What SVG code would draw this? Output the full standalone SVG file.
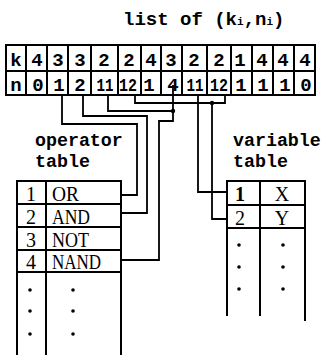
<svg xmlns="http://www.w3.org/2000/svg" width="323" height="355" viewBox="0 0 323 355">
<style>
.bg{fill:#fff}
.ln{stroke:#000;stroke-width:2;fill:none;stroke-linecap:square}
.cn{stroke:#000;stroke-width:1.8;fill:none;stroke-linejoin:miter}
.mono{font-family:"Courier New","Liberation Mono","DejaVu Sans Mono",monospace;font-weight:bold;fill:#000}
.cell{font-family:"Courier New","Liberation Mono","DejaVu Sans Mono",monospace;font-weight:bold;font-size:19px;fill:#000;text-anchor:middle}
.ser{font-family:"Liberation Serif","Times New Roman",serif;font-size:20px;fill:#000}
.dot{fill:#000}
</style>
<rect class="bg" x="0" y="0" width="323" height="355"/>

<g id="title">
<text class="mono" x="123" y="25" font-size="19">list of (k<tspan font-size="11">i</tspan>,n<tspan font-size="11">i</tspan>)</text>
</g>

<g id="list">
<path class="ln" d="M6 45H315M6 71H315M6 95H315M6 45V95M26 45V95M47 45V95M68 45V95M91 45V95M118 45V95M141 45V95M161 45V95M182 45V95M207 45V95M231 45V95M252 45V95M273 45V95M294 45V95M315 45V95"/>
<text class="cell" x="16" y="66">k</text>
<text class="cell" x="37" y="66">4</text>
<text class="cell" x="58" y="66">3</text>
<text class="cell" x="80" y="66">3</text>
<text class="cell" x="104" y="66">2</text>
<text class="cell" x="129" y="66">2</text>
<text class="cell" x="151" y="66">4</text>
<text class="cell" x="171" y="66">3</text>
<text class="cell" x="194" y="66">2</text>
<text class="cell" x="219" y="66">2</text>
<text class="cell" x="240" y="66">1</text>
<text class="cell" x="262" y="66">4</text>
<text class="cell" x="283" y="66">4</text>
<text class="cell" x="305" y="66">4</text>
<text class="cell" x="16" y="91">n</text>
<text class="cell" x="38" y="91">0</text>
<text class="cell" x="59" y="91">1</text>
<text class="cell" x="80" y="91">2</text>
<text class="cell" x="105" y="91" textLength="17" lengthAdjust="spacingAndGlyphs">11</text>
<text class="cell" x="128" y="91" textLength="18" lengthAdjust="spacingAndGlyphs">12</text>
<text class="cell" x="149" y="91">1</text>
<text class="cell" x="173" y="91">4</text>
<text class="cell" x="195" y="91" textLength="17" lengthAdjust="spacingAndGlyphs">11</text>
<text class="cell" x="219" y="91" textLength="18" lengthAdjust="spacingAndGlyphs">12</text>
<text class="cell" x="241" y="91">1</text>
<text class="cell" x="263" y="91">1</text>
<text class="cell" x="285" y="91">1</text>
<text class="cell" x="306" y="91">0</text>
</g>

<g id="operator-label">
<text class="mono" x="35" y="146" font-size="18.3">operator</text>
<text class="mono" x="35" y="167" font-size="18.3">table</text>
</g>

<g id="variable-label">
<text class="mono" x="233" y="146" font-size="18.3">variable</text>
<text class="mono" x="233" y="167" font-size="18.3">table</text>
</g>

<g id="operator-table">
<path class="ln" d="M17 181H121M17 204H121M17 227H121M17 250H121M17 272H121M17 181V355M46 181V355M121 181V355"/>
<text class="ser" x="31" y="201" text-anchor="middle">1</text>
<text class="ser" x="52" y="201" textLength="27" lengthAdjust="spacingAndGlyphs">OR</text>
<text class="ser" x="31" y="224" text-anchor="middle">2</text>
<text class="ser" x="52" y="224" textLength="38" lengthAdjust="spacingAndGlyphs">AND</text>
<text class="ser" x="31" y="247" text-anchor="middle">3</text>
<text class="ser" x="52" y="247" textLength="37" lengthAdjust="spacingAndGlyphs">NOT</text>
<text class="ser" x="31" y="269" text-anchor="middle">4</text>
<text class="ser" x="52" y="269" textLength="49" lengthAdjust="spacingAndGlyphs">NAND</text>
<circle class="dot" cx="30" cy="290" r="1.8"/>
<circle class="dot" cx="30" cy="311" r="1.8"/>
<circle class="dot" cx="30" cy="334" r="1.8"/>
<circle class="dot" cx="73" cy="290" r="1.8"/>
<circle class="dot" cx="73" cy="311" r="1.8"/>
<circle class="dot" cx="73" cy="334" r="1.8"/>
</g>

<g id="variable-table">
<path class="ln" d="M227 181H305M227 205H305M227 228H305M227 181V315M260 181V315M305 181V320"/>
<text class="ser" x="240" y="201" text-anchor="middle" font-weight="bold">1</text>
<text class="ser" x="282" y="201" text-anchor="middle">X</text>
<text class="ser" x="240" y="225" text-anchor="middle">2</text>
<text class="ser" x="282" y="225" text-anchor="middle">Y</text>
<circle class="dot" cx="239" cy="245" r="1.8"/>
<circle class="dot" cx="239" cy="267" r="1.8"/>
<circle class="dot" cx="239" cy="289" r="1.8"/>
<circle class="dot" cx="283" cy="245" r="1.8"/>
<circle class="dot" cx="283" cy="267" r="1.8"/>
<circle class="dot" cx="283" cy="289" r="1.8"/>
</g>

<g id="connectors">
<path class="cn" d="M62 95V124H137V195H121"/>
<path class="cn" d="M83 95V116H147V213H121"/>
<path class="cn" d="M173 85V121H159V260H121"/>
<path class="cn" d="M108 95V111H173"/>
<path class="cn" d="M135 95V103H225V95"/>
<path class="cn" d="M212 103V219H227"/>
<path class="cn" d="M198 95V192H227"/>
<circle class="dot" cx="173" cy="111" r="2.2"/>
<circle class="dot" cx="212" cy="103" r="2.2"/>
</g>
</svg>
